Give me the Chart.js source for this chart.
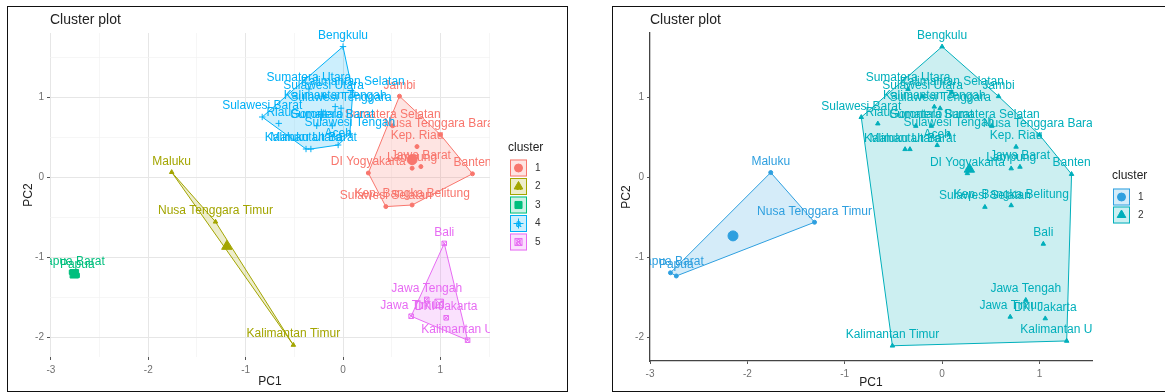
<!DOCTYPE html>
<html><head><meta charset="utf-8">
<script src="https://cdn.jsdelivr.net/npm/chart.js@4.4.1/dist/chart.umd.min.js"></script>
<style>
html,body{margin:0;padding:0;background:#fff;overflow:hidden;width:1165px;height:392px;}
.panel{position:absolute;border:1px solid #111;box-sizing:border-box;}
canvas{position:absolute;}
</style></head><body>
<div class="panel" style="left:7px;top:6px;width:561px;height:386px"></div>
<div class="panel" style="left:612px;top:6px;width:560px;height:386px"></div>
<canvas id="c1" style="left:8px;top:7px;width:558px;height:383px" width="558" height="383"></canvas>
<canvas id="c2" style="left:613px;top:7px;width:552px;height:383px" width="552" height="383"></canvas>
<script>
// ---------------- DATA ----------------
const provinces = ["Aceh","Sumatera Utara","Sumatera Barat","Riau","Jambi","Sumatera Selatan","Bengkulu","Lampung",
  "Kep. Bangka Belitung","Kep. Riau","DKI Jakarta","Jawa Barat","Jawa Tengah","DI Yogyakarta","Jawa Timur","Banten",
  "Bali","Nusa Tenggara Barat","Nusa Tenggara Timur","Kalimantan Barat","Kalimantan Tengah","Kalimantan Selatan",
  "Kalimantan Timur","Kalimantan Utara","Sulawesi Utara","Sulawesi Tengah","Sulawesi Selatan","Sulawesi Tenggara",
  "Gorontalo","Sulawesi Barat","Maluku","Maluku Utara","Papua Barat","Papua"];
const pc1 = [-0.05,-0.35,-0.11,-0.66,0.58,0.51,0.00,0.71,
  0.71,0.76,1.06,0.80,0.86,0.26,0.70,1.33,
  1.04,1.00,-1.31,-0.33,-0.08,0.10,
  -0.51,1.28,-0.20,0.07,0.44,-0.02,
  -0.27,-0.83,-1.76,-0.38,-2.79,-2.73];
const pc2 = [0.40,1.10,0.64,0.67,1.01,0.64,1.63,0.11,
  -0.35,0.38,-1.76,0.13,-1.53,0.05,-1.74,0.04,
  -0.83,0.53,-0.56,0.35,0.88,1.06,
  -2.10,-2.04,1.01,0.54,-0.37,0.86,
  0.64,0.75,0.06,0.35,-1.19,-1.23];
const clusterK5 = [4,4,4,4,1,1,4,1, 1,1,5,1,5,1,5,1, 5,1,2,4,4,4, 2,5,4,4,1,4, 4,4,2,4,3,3];
const clusterK2 = [2,2,2,2,2,2,2,2, 2,2,2,2,2,2,2,2, 2,2,1,2,2,2, 2,2,2,2,2,2, 2,2,1,2,1,1];
const xTickValues = [-3,-2,-1,0,1];
const yTickValues = [-2,-1,0,1];
const clusterNames5 = ["1","2","3","4","5"];
const clusterNames2 = ["1","2"];

// ---------------- HELPERS ----------------
const FONT = '"Liberation Sans", Arial, sans-serif';
function hexA(hex, a){const n=parseInt(hex.slice(1),16);return `rgba(${n>>16&255},${n>>8&255},${n&255},${a})`;}
function convexHull(points){
  const p = points.slice().sort((a,b)=>a.x-b.x||a.y-b.y);
  if (p.length<3) return p;
  const cross=(o,a,b)=>(a.x-o.x)*(b.y-o.y)-(a.y-o.y)*(b.x-o.x);
  const lower=[];for(const q of p){while(lower.length>=2&&cross(lower[lower.length-2],lower[lower.length-1],q)<=0)lower.pop();lower.push(q);}
  const upper=[];for(let i=p.length-1;i>=0;i--){const q=p[i];while(upper.length>=2&&cross(upper[upper.length-2],upper[upper.length-1],q)<=0)upper.pop();upper.push(q);}
  upper.pop();lower.pop();return lower.concat(upper);
}
const styleMap = {
  circle:{pointStyle:'circle',r:2,cr:5},
  triangle:{pointStyle:'triangle',r:2.6,cr:6},
  rect:{pointStyle:'rect',r:3,cr:6},
  cross:{pointStyle:'cross',r:3.2,cr:6},
  rectcross:{pointStyle:'rect',r:3.2,cr:6}
};

function buildPanel(id, groups, palette, shapes, names, cfg){
  const datasets=[];
  palette.forEach((col,ki)=>{
    const k=ki+1;
    const pts=[];
    provinces.forEach((p,i)=>{ if(groups[i]===k) pts.push({x:pc1[i],y:pc2[i],name:p}); });
    const hull=convexHull(pts); hull.push(hull[0]);
    const st=styleMap[shapes[ki]];
    datasets.push({type:'line',data:hull.map(h=>({x:h.x,y:h.y})),borderColor:col,backgroundColor:hexA(col,0.2),
      borderWidth:1,pointRadius:0,fill:'shape',tension:0,order:5});
    const hollow = shapes[ki]==='rectcross';
    datasets.push({type:'scatter',data:pts,isLabelled:true,labelColor:col,pointStyle:st.pointStyle,pointRadius:st.r,
      backgroundColor:hollow?'rgba(0,0,0,0)':col,borderColor:col,borderWidth:1,order:3});
    if(hollow) datasets.push({type:'scatter',data:pts,pointStyle:'crossRot',pointRadius:st.r,borderColor:col,borderWidth:1,order:3});
    const cx=pts.reduce((s,d)=>s+d.x,0)/pts.length, cy=pts.reduce((s,d)=>s+d.y,0)/pts.length;
    datasets.push({type:'scatter',data:[{x:cx,y:cy}],pointStyle:st.pointStyle,pointRadius:st.cr,
      backgroundColor:hollow?'rgba(0,0,0,0)':col,borderColor:col,borderWidth:1,order:1});
    if(hollow) datasets.push({type:'scatter',data:[{x:cx,y:cy}],pointStyle:'crossRot',pointRadius:st.cr,borderColor:col,borderWidth:1,order:1});
  });

  const extras={
    id:'extras'+id,
    afterDatasetsDraw(chart){
      const ctx=chart.ctx, a=chart.chartArea;
      const xs=chart.scales.x, ys=chart.scales.y;
      ctx.save();
      ctx.beginPath();ctx.rect(a.left,a.top-8,a.right-a.left,a.bottom-a.top+8);ctx.clip();
      ctx.font='12px '+FONT;ctx.textAlign='center';ctx.textBaseline='middle';
      chart.data.datasets.forEach(ds=>{
        if(!ds.isLabelled) return;
        ctx.fillStyle=ds.labelColor;
        ds.data.forEach(d=>ctx.fillText(d.name,xs.getPixelForValue(d.x),ys.getPixelForValue(d.y)-11));
      });
      ctx.restore();
    },
    afterDraw(chart){
      const ctx=chart.ctx;
      ctx.save();
      ctx.font='14px '+FONT;ctx.fillStyle='#222';ctx.textAlign='left';ctx.textBaseline='middle';
      ctx.fillText('Cluster plot',cfg.titleX,13.5);
      const L=cfg.legend;
      ctx.font='12px '+FONT;ctx.fillStyle='#222';
      ctx.fillText('cluster',L.x,L.y);
      palette.forEach((col,ki)=>{
        const cy=L.y0+ki*L.step, bx=L.bx, s=17;
        ctx.fillStyle=hexA(col,0.2);ctx.fillRect(bx,cy-s/2,s,s);
        ctx.strokeStyle=col;ctx.lineWidth=1;ctx.strokeRect(bx+0.5,cy-s/2+0.5,s-1,s-1);
        ctx.fillStyle=col;ctx.font='bold 10px '+FONT;ctx.textAlign='center';ctx.fillText('a',bx+s/2,cy+0.5);
        const st=styleMap[shapes[ki]];
        const hollow=shapes[ki]==='rectcross';
        ctx.fillStyle=hollow?'rgba(0,0,0,0)':col;ctx.strokeStyle=col;
        Chart.helpers.drawPoint(ctx,{pointStyle:st.pointStyle,radius:hollow?5:(shapes[ki]==='circle'?4:5),rotation:0,borderWidth:1},bx+s/2,cy);
        if(hollow) Chart.helpers.drawPoint(ctx,{pointStyle:'crossRot',radius:5,rotation:0,borderWidth:1},bx+s/2,cy);
        ctx.fillStyle='#333';ctx.font='10px '+FONT;ctx.textAlign='left';
        ctx.fillText(names[ki],L.nx,cy);
      });
      ctx.restore();
    }
  };

  const tickFont={family:FONT,size:10};
  new Chart(document.getElementById(id),{
    type:'scatter',
    data:{datasets},
    options:{
      responsive:false,animation:false,events:[],
      layout:{padding:{left:0,top:cfg.top,right:cfg.right,bottom:0}},
      plugins:{legend:{display:false},tooltip:{enabled:false}},
      scales:{
        x:{type:'linear',min:cfg.xmin,max:cfg.xmax,
          afterFit(s){s.height=cfg.xh;},
          afterBuildTicks(s){ s.ticks = cfg.grid ? [-3,-2.5,-2,-1.5,-1,-0.5,0,0.5,1,1.5].map(v=>({value:v})) : xTickValues.map(v=>({value:v})); },
          ticks:{font:tickFont,color:'#707070',padding:4,maxRotation:0,autoSkip:false,
            callback:v=>xTickValues.includes(v)?String(v):''},
          grid:{display:true,drawOnChartArea:cfg.grid,tickLength:3,
            color:c=>c.tick&&Number.isInteger(c.tick.value)?'#e6e6e6':'#f2f2f2',
            lineWidth:c=>c.tick&&Number.isInteger(c.tick.value)?1:0.7,
            tickColor:c=>c.tick&&Number.isInteger(c.tick.value)?'#555':'rgba(0,0,0,0)'},
          border:{display:!cfg.grid,color:'#444',width:1.3},
          title:{display:true,text:'PC1',font:{family:FONT,size:12},color:'#222',padding:{top:0,bottom:cfg.xtpad}}
        },
        y:{type:'linear',min:cfg.ymin,max:cfg.ymax,
          afterFit(s){s.width=cfg.yw;},
          afterBuildTicks(s){ s.ticks = cfg.grid ? [-2,-1.5,-1,-0.5,0,0.5,1,1.5].map(v=>({value:v})) : yTickValues.map(v=>({value:v})); },
          ticks:{font:tickFont,color:'#707070',padding:3,autoSkip:false,
            callback:v=>yTickValues.includes(v)?String(v):''},
          grid:{display:true,drawOnChartArea:cfg.grid,tickLength:3,
            color:c=>c.tick&&Number.isInteger(c.tick.value)?'#e6e6e6':'#f2f2f2',
            lineWidth:c=>c.tick&&Number.isInteger(c.tick.value)?1:0.7,
            tickColor:c=>c.tick&&Number.isInteger(c.tick.value)?'#555':'rgba(0,0,0,0)'},
          border:{display:!cfg.grid,color:'#444',width:1.3},
          title:{display:true,text:'PC2',font:{family:FONT,size:12},color:'#222',padding:{top:cfg.ytpad,bottom:0}}
        }
      }
    },
    plugins:[extras]
  });
}

buildPanel('c1',clusterK5,['#F8766D','#A3A500','#00BF7D','#00B0F6','#E76BF3'],
  ['circle','triangle','rect','cross','rectcross'],clusterNames5,
  {xmin:-3.01,xmax:1.51,ymin:-2.25,ymax:1.8,top:26,right:76,xh:33,yw:42,grid:true,xtpad:1,ytpad:13,titleX:42,
   legend:{x:500,y:141,y0:161,step:18.5,bx:502,nx:527}});
buildPanel('c2',clusterK2,['#2E9FDF','#00AFBB'],['circle','triangle'],clusterNames2,
  {xmin:-3.0,xmax:1.54,ymin:-2.29,ymax:1.8,top:26,right:73,xh:29,yw:37,grid:false,xtpad:0,ytpad:6,titleX:37,
   legend:{x:499,y:169,y0:190,step:18,bx:500,nx:525}});
</script>
</body></html>
